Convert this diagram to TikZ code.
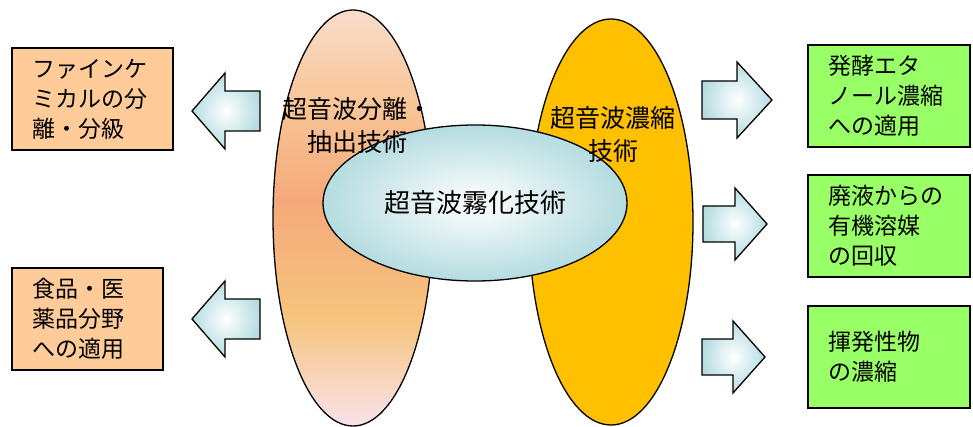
\documentclass[tikz,border=0pt]{standalone}
\usepackage{fontspec}
\setmainfont{Noto Sans CJK JP}
\usetikzlibrary{shapes.geometric}
\definecolor{boxorange}{HTML}{FFCC99}
\definecolor{boxgreen}{HTML}{99FF66}
\definecolor{goldell}{HTML}{FFC000}
\definecolor{cyanedge}{HTML}{B4DCE0}
\definecolor{lpeach}{HTML}{F8DCCB}
\definecolor{lorange}{HTML}{F9C698}
\definecolor{lsalmon}{HTML}{F5A97A}
\definecolor{lyel}{HTML}{F6C47E}
\definecolor{lpink}{HTML}{FAE2EA}
\pgfdeclareverticalshading{leftshade}{100bp}{color(0bp)=(lpink); color(25bp)=(lpink); color(38bp)=(lyel); color(52bp)=(lsalmon); color(64bp)=(lorange); color(75bp)=(lpeach); color(100bp)=(lpeach)}
\tikzset{
  outl/.style={draw=black, line width=1.3pt},
  infobox/.style={outl, rectangle, align=left, inner xsep=20pt, inner ysep=0pt,
    font=\fontsize{23}{30}\selectfont},
  lbox/.style={infobox, fill=boxorange},
  rbox/.style={infobox, fill=boxgreen},
  ellabel/.style={align=center, inner sep=0pt, font=\fontsize{25}{33}\selectfont},
  barrow/.style={outl, line join=miter, inner color=white, outer color=cyanedge},
}
\begin{document}
\begin{tikzpicture}[x=1pt, y=-1pt]
\useasboundingbox (0,0) rectangle (973,427);
% big ellipses
\node[ellipse, outl, inner sep=0pt, minimum width=160pt, minimum height=416pt, shade, shading=leftshade] (lell) at (353,218) {};
\node[ellipse, outl, inner sep=0pt, minimum width=164pt, minimum height=406pt, fill=goldell] (rell) at (611,222) {};
\node[ellipse, outl, inner sep=0pt, minimum width=304pt, minimum height=156pt, inner color=white, outer color=cyanedge,
  font=\fontsize{26}{30}\selectfont] (cell) at (475,203) {超音波霧化技術};
\node[ellabel] (llab) at (357,126) {超音波分離・\\抽出技術};
\node[ellabel] (rlab) at (613,134) {超音波濃縮\\技術};
% left boxes
\node[lbox, minimum width=161pt, minimum height=102pt, text width=121pt] (lb1) at (92.5,99) {ファインケ\\ミカルの分\\離・分級};
\node[lbox, minimum width=151pt, minimum height=102pt, text width=111pt] (lb2) at (87.5,319) {食品・医\\薬品分野\\への適用};
% right boxes
\node[rbox, minimum width=162pt, minimum height=102pt, text width=122pt] (rb1) at (889,96) {発酵エタ\\ノール濃縮\\への適用};
\node[rbox, minimum width=162pt, minimum height=102pt, text width=122pt] (rb2) at (889,226) {廃液からの\\有機溶媒\\の回収};
\node[rbox, minimum width=162pt, minimum height=102pt, text width=122pt] (rb3) at (889,357) {揮発性物\\の濃縮};
% block arrows
\path[barrow] (192,111) -- (225,73) -- (225,91) -- (260,91) -- (260,131) -- (225,131) -- (225,149) -- cycle;
\path[barrow] (192,319) -- (225,281) -- (225,299) -- (260,299) -- (260,339) -- (225,339) -- (225,357) -- cycle;
\path[barrow] (772,100) -- (737,62) -- (737,81) -- (702,81) -- (702,119) -- (737,119) -- (737,138) -- cycle;
\path[barrow] (767,224) -- (735,188) -- (735,206) -- (703,206) -- (703,242) -- (735,242) -- (735,260) -- cycle;
\path[barrow] (765,357) -- (733,321) -- (733,339) -- (702,339) -- (702,375) -- (733,375) -- (733,393) -- cycle;
\end{tikzpicture}
\end{document}
